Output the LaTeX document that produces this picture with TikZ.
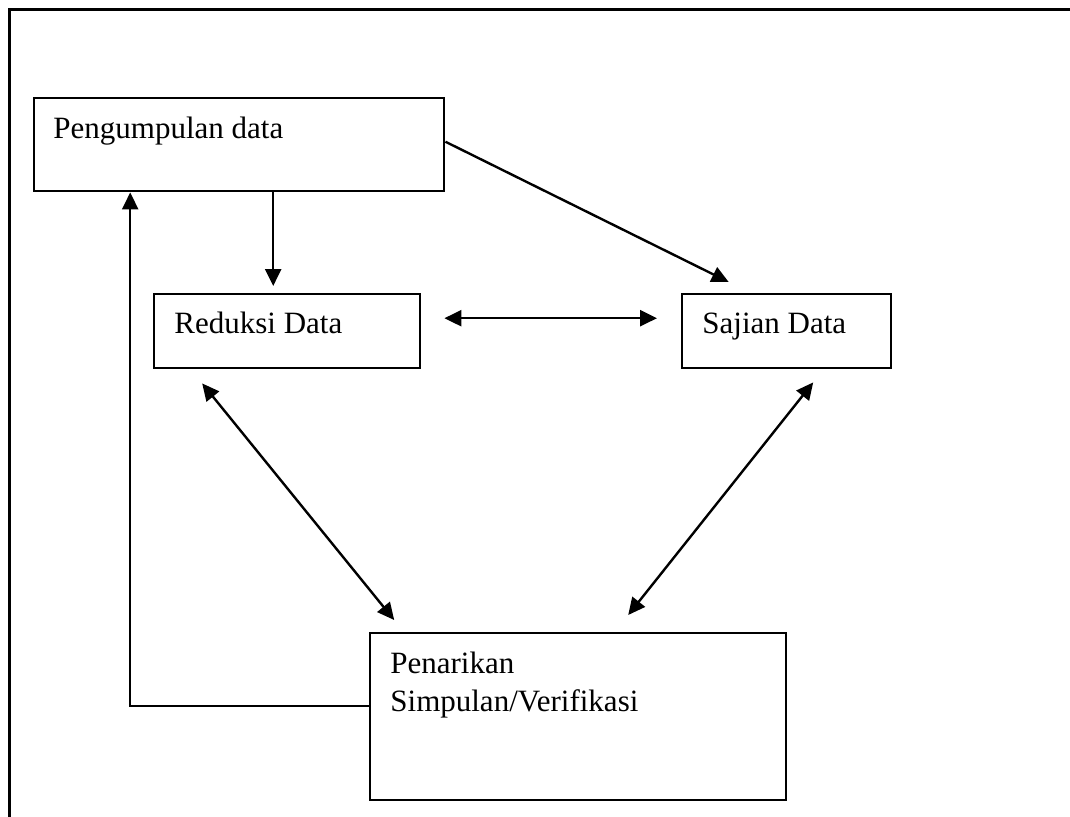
\documentclass[tikz,border=0pt]{standalone}
\usepackage{fontspec}
\setmainfont{Liberation Serif}
\usepackage{tikz}
\usetikzlibrary{arrows.meta}

\begin{document}
\begin{tikzpicture}[x=0.5pt,y=-0.5pt,
    box/.style={draw, line width=1.2pt, rectangle, anchor=north west, inner sep=0pt},
    lbl/.style={anchor=base west, inner sep=0pt, font=\fontsize{15.5}{19}\selectfont, align=left},
    arr/.style={line width=1.2pt, -{Triangle[length=8.5pt,width=8pt]}},
    darr/.style={line width=1.2pt, {Triangle[length=8.5pt,width=8pt]}-{Triangle[length=8.5pt,width=8pt]}}]
  \useasboundingbox (0,0) rectangle (1070,816);
  \draw[line width=1.5pt] (9,830) -- (9,9) -- (1080,9);
  \node[box, minimum width=205pt, minimum height=46.5pt] (peng) at (33,97) {};
  \node[box, minimum width=133pt, minimum height=37pt] (red) at (153,293) {};
  \node[box, minimum width=104.5pt, minimum height=37pt] (saj) at (681,293) {};
  \node[box, minimum width=208pt, minimum height=83.5pt] (pen) at (369,632) {};
  \node[lbl] (pengtxt) at (53,138) {Pengumpulan data};
  \node[lbl] (redtxt) at (174,333) {Reduksi Data};
  \node[lbl] (sajtxt) at (702,333) {Sajian Data};
  \node[lbl] (pentxt) at (390,711) {Penarikan\\Simpulan/Verifikasi};
  \draw[arr] ([xshift=17pt]peng.south) -- ([xshift=-7pt,yshift=3.5pt]red.north);
  \draw[arr] ([yshift=1.5pt]peng.east) -- ([xshift=-29pt,yshift=5.5pt]saj.north);
  \draw[darr] ([xshift=11.5pt,yshift=6.5pt]red.east) -- ([xshift=-12pt,yshift=6.5pt]saj.west);
  \draw[darr] ([xshift=-42.5pt,yshift=-7pt]red.south) -- ([xshift=-92pt,yshift=6pt]pen.north);
  \draw[darr] ([xshift=13.25pt,yshift=-6.5pt]saj.south) -- ([xshift=25pt,yshift=8.5pt]pen.north);
  \draw[arr] ([yshift=5.25pt]pen.west) -| ([xshift=-54.5pt]peng.south);
\end{tikzpicture}
\end{document}
